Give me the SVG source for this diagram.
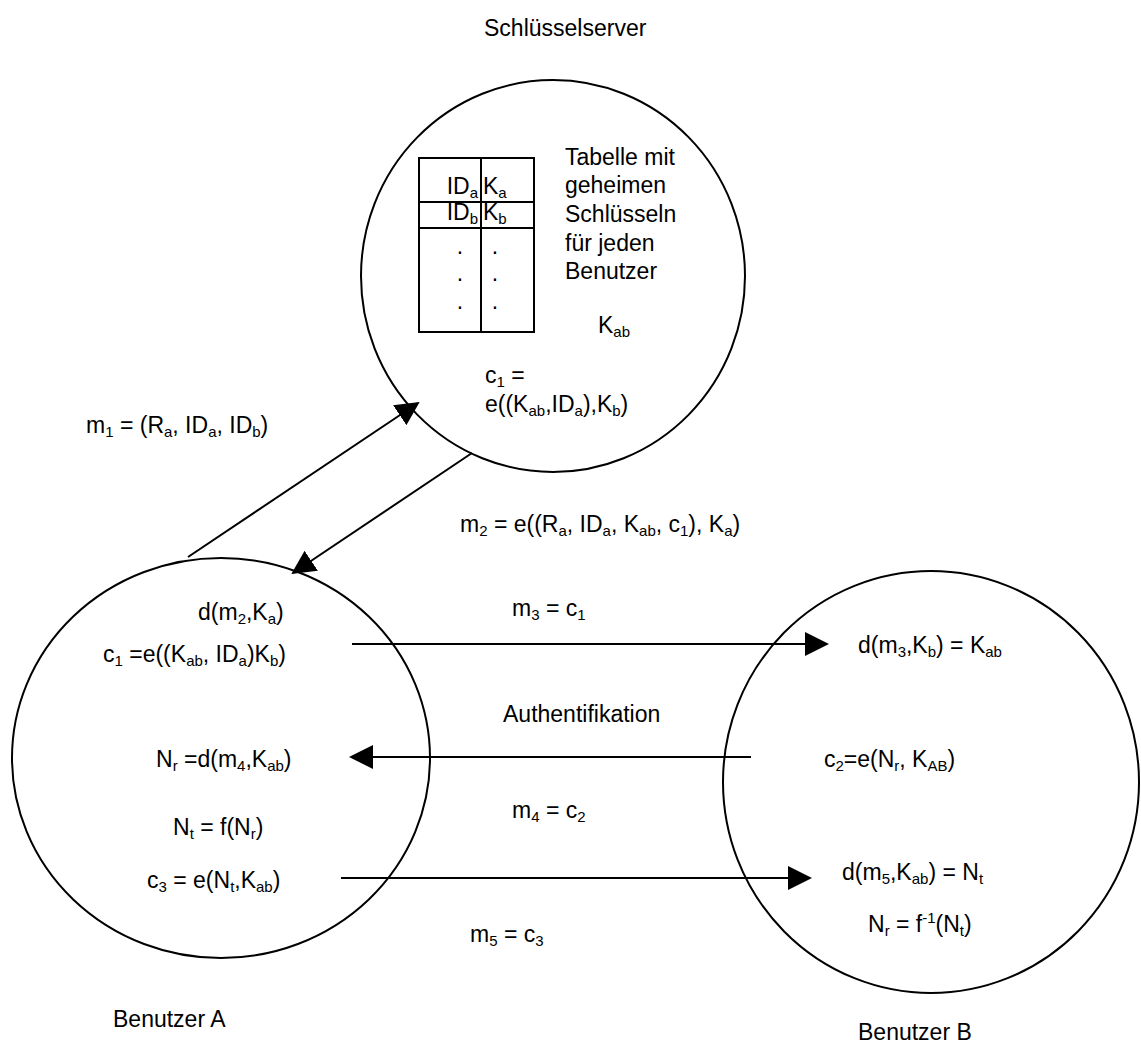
<svg xmlns="http://www.w3.org/2000/svg" width="1141" height="1050" viewBox="0 0 1141 1050">
<style>
text{font-family:"Liberation Sans",Arial,sans-serif;font-size:23px;fill:#000}
.s{font-size:15px;baseline-shift:-4px}
.sup{font-size:15px;baseline-shift:9px}
.node{fill:none;stroke:#000;stroke-width:2}
.ln{fill:none;stroke:#000;stroke-width:2}
.arr{fill:none;stroke:#000;stroke-width:2;marker-end:url(#ah)}
</style>
<defs>
<marker id="ah" markerUnits="userSpaceOnUse" markerWidth="24" markerHeight="24" viewBox="0 0 24 24" refX="22" refY="12" orient="auto">
<path d="M0,0 L24,12 L0,24 Z" fill="#000"/>
</marker>
</defs>
<rect width="1141" height="1050" fill="#fff"/>

<g id="server">
<ellipse class="node" cx="553" cy="276" rx="192" ry="196"/>
<text x="484" y="36">Schlüsselserver</text>
<g id="table">
<rect class="ln" x="419" y="158" width="115" height="174"/>
<line class="ln" x1="481" y1="158" x2="481" y2="332"/>
<line class="ln" x1="419" y1="202" x2="534" y2="202"/>
<line class="ln" x1="419" y1="228" x2="534" y2="228"/>
<text x="478" y="194" text-anchor="end">ID<tspan class="s">a</tspan></text>
<text x="483" y="194">K<tspan class="s">a</tspan></text>
<text x="478" y="220" text-anchor="end">ID<tspan class="s">b</tspan></text>
<text x="483" y="220">K<tspan class="s">b</tspan></text>
<text x="460" y="254" text-anchor="middle">.</text>
<text x="495" y="254" text-anchor="middle">.</text>
<text x="460" y="281" text-anchor="middle">.</text>
<text x="495" y="281" text-anchor="middle">.</text>
<text x="460" y="309" text-anchor="middle">.</text>
<text x="495" y="309" text-anchor="middle">.</text>
</g>
<text x="565" y="165">Tabelle mit</text>
<text x="565" y="193">geheimen</text>
<text x="565" y="222">Schlüsseln</text>
<text x="565" y="251">für jeden</text>
<text x="565" y="279">Benutzer</text>
<text x="598" y="333">K<tspan class="s">ab</tspan></text>
<text x="485" y="383">c<tspan class="s">1</tspan> =</text>
<text x="485" y="412">e((K<tspan class="s">ab</tspan>,ID<tspan class="s">a</tspan>),K<tspan class="s">b</tspan>)</text>
</g>

<g id="userA">
<ellipse class="node" cx="221" cy="758" rx="209" ry="200"/>
<text x="113" y="1027">Benutzer A</text>
<text x="198" y="620">d(m<tspan class="s">2</tspan>,K<tspan class="s">a</tspan>)</text>
<text x="103" y="662">c<tspan class="s">1</tspan> =e((K<tspan class="s">ab</tspan>, ID<tspan class="s">a</tspan>)K<tspan class="s">b</tspan>)</text>
<text x="156" y="767">N<tspan class="s">r</tspan> =d(m<tspan class="s">4</tspan>,K<tspan class="s">ab</tspan>)</text>
<text x="173" y="835">N<tspan class="s">t</tspan> = f(N<tspan class="s">r</tspan>)</text>
<text x="147" y="888">c<tspan class="s">3</tspan> = e(N<tspan class="s">t</tspan>,K<tspan class="s">ab</tspan>)</text>
</g>

<g id="userB">
<ellipse class="node" cx="931" cy="782" rx="208" ry="211"/>
<text x="858" y="1040">Benutzer B</text>
<text x="858" y="653">d(m<tspan class="s">3</tspan>,K<tspan class="s">b</tspan>) = K<tspan class="s">ab</tspan></text>
<text x="824" y="767">c<tspan class="s">2</tspan>=e(N<tspan class="s">r</tspan>, K<tspan class="s">AB</tspan>)</text>
<text x="842" y="880">d(m<tspan class="s">5</tspan>,K<tspan class="s">ab</tspan>) = N<tspan class="s">t</tspan></text>
<text x="868" y="932">N<tspan class="s">r</tspan> = f<tspan class="sup">-1</tspan>(N<tspan class="s">t</tspan>)</text>
</g>

<g id="connectors">
<line class="arr" x1="188" y1="557" x2="418" y2="403"/>
<line class="arr" x1="472" y1="453" x2="293" y2="573"/>
<line class="arr" x1="352" y1="644" x2="827" y2="644"/>
<line class="arr" x1="751" y1="757" x2="351" y2="757"/>
<line class="arr" x1="341" y1="878" x2="810" y2="878"/>
<text x="86" y="433">m<tspan class="s">1</tspan> = (R<tspan class="s">a</tspan>, ID<tspan class="s">a</tspan>, ID<tspan class="s">b</tspan>)</text>
<text x="460" y="532">m<tspan class="s">2</tspan> = e((R<tspan class="s">a</tspan>, ID<tspan class="s">a</tspan>, K<tspan class="s">ab</tspan>, c<tspan class="s">1</tspan>), K<tspan class="s">a</tspan>)</text>
<text x="512" y="616">m<tspan class="s">3</tspan> = c<tspan class="s">1</tspan></text>
<text x="503" y="722">Authentifikation</text>
<text x="512" y="818">m<tspan class="s">4</tspan> = c<tspan class="s">2</tspan></text>
<text x="470" y="942">m<tspan class="s">5</tspan> = c<tspan class="s">3</tspan></text>
</g>
</svg>
